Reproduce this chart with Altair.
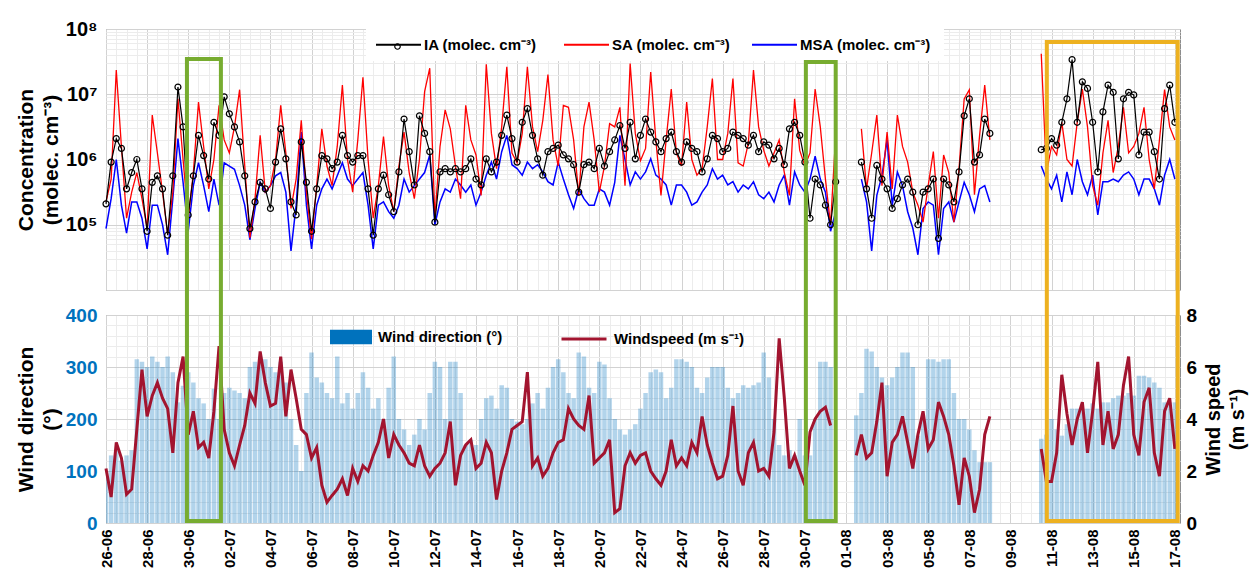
import altair as alt
import pandas as pd

FONT = "Liberation Sans"
START = "2019-06-26T00:00:00Z"   # first sample (26-06, 00:00)
END = "2019-08-17T06:00:00Z"     # right edge of the time axis
STEP_HOURS = 6                   # one value every 6 hours

# ---- concentrations, log10(molec. cm-3), one value per 6 h (None = no data) ----
ia_log10 = [
    5.32, 5.96, 6.32, 6.17, 5.55, 5.80, 6.00, 5.55,
    4.90, 5.65, 5.75, 5.55, 4.84, 5.75, 7.11, 6.50,
    5.15, 5.75, 6.37, 6.06, 5.70, 6.57, 6.37, 6.96,
    6.70, 6.50, 6.27, 5.75, 4.94, 5.35, 5.65, 5.55,
    5.25, 5.96, 6.47, 6.01, 5.35, 5.15, 6.27, 5.65,
    4.90, 5.55, 6.06, 6.01, 5.86, 5.96, 6.37, 6.06,
    5.96, 6.06, 6.06, 5.55, 4.84, 5.55, 5.76, 5.46,
    5.20, 5.81, 6.62, 6.12, 5.61, 6.67, 6.40, 6.12,
    5.04, 5.81, 5.86, 5.81, 5.86, 5.81, 5.86, 6.01,
    5.70, 5.61, 6.01, 5.81, 5.96, 6.37, 6.68, 6.32,
    5.96, 6.57, 6.78, 6.37, 6.01, 5.76, 6.12, 6.17,
    6.22, 6.07, 6.01, 5.92, 5.50, 5.92, 5.96, 5.86,
    6.17, 5.90, 6.12, 6.30, 6.52, 6.17, 6.57, 6.01,
    6.37, 6.62, 6.42, 6.27, 6.12, 6.32, 6.42, 6.12,
    5.96, 6.27, 6.17, 6.12, 5.81, 6.01, 6.37, 6.32,
    6.12, 6.17, 6.42, 6.37, 6.32, 6.22, 6.37, 6.12,
    6.27, 6.22, 6.01, 6.17, 5.92, 6.47, 6.57, 6.37,
    5.96, 5.10, 5.70, 5.61, 5.30, 5.00, 5.66, None,
    None, None, None, 5.96, 5.55, 5.10, 5.91, 5.70,
    5.55, 5.25, 5.40, 5.61, 5.70, 5.50, 5.00, 5.50,
    5.55, 5.70, 4.79, 5.70, 5.61, 5.35, 5.81, 6.67,
    6.93, 5.96, 6.07, 6.62, 6.40, None, None, None,
    None, None, None, None, None, None, 6.15, 6.17,
    6.32, 6.22, 6.57, 6.93, 7.53, 6.57, 7.19, 7.09,
    6.57, 5.81, 6.73, 7.14, 7.03, 6.01, 6.93, 7.03,
    6.99, 6.07, 6.42, 6.42, 6.12, 5.70, 6.78, 7.14,
    6.57,
]
sa_log10 = [
    5.35, 5.70, 7.37, 6.20, 5.10, 5.50, 5.80, 5.40,
    4.95, 6.68, 6.10, 5.50, 4.85, 5.50, 6.93, 6.00,
    5.10, 5.80, 6.88, 6.20, 5.55, 6.00, 6.83, 6.30,
    6.10, 6.50, 7.07, 5.90, 4.80, 5.40, 6.37, 5.50,
    5.60, 6.00, 6.83, 6.10, 5.25, 5.70, 6.60, 5.50,
    4.78, 5.60, 6.47, 5.90, 5.60, 6.20, 7.14, 6.00,
    5.50, 6.30, 7.26, 6.00, 5.10, 5.60, 6.35, 5.60,
    5.20, 5.90, 6.42, 5.80, 5.40, 6.00, 7.04, 7.40,
    5.10, 6.20, 6.76, 6.47, 5.90, 5.40, 6.83, 6.30,
    6.07, 5.45, 7.46, 6.40, 5.86, 6.50, 7.42, 6.10,
    5.95, 6.40, 7.42, 6.50, 6.12, 6.60, 7.30, 6.30,
    5.90, 6.83, 6.80, 6.30, 5.45, 6.50, 6.88, 6.30,
    5.50, 5.90, 6.55, 6.50, 6.80, 5.60, 7.47, 6.40,
    5.98, 6.17, 7.34, 6.30, 5.45, 6.30, 7.08, 6.10,
    5.90, 6.88, 6.00, 5.76, 5.86, 6.50, 7.24, 6.00,
    6.00, 6.40, 7.24, 5.95, 5.90, 6.25, 7.37, 6.50,
    6.14, 5.90, 6.10, 6.30, 5.80, 5.45, 6.93, 6.14,
    5.90, 6.10, 7.08, 6.50, 5.70, 5.00, 6.38, None,
    None, None, None, 6.47, 5.55, 6.10, 6.68, 5.60,
    6.42, 5.55, 6.68, 6.20, 5.96, 5.50, 5.30, 5.04,
    5.60, 6.12, 5.10, 6.07, 5.80, 5.04, 5.86, 6.93,
    7.07, 5.46, 6.37, 7.14, 6.30, None, None, None,
    None, None, None, None, None, None, 7.62, 5.80,
    6.20, 6.07, 6.57, 6.00, 5.90, 6.57, 7.08, 6.50,
    5.60, 5.30, 6.10, 6.60, 5.80, 6.20, 6.80, 6.10,
    6.20, 6.40, 6.80, 6.00, 5.55, 6.30, 7.07, 6.50,
    6.30,
]
msa_log10 = [
    4.94, 5.40, 6.00, 5.30, 4.87, 5.35, 5.35, 5.10,
    4.63, 5.30, 5.30, 5.00, 4.54, 5.40, 6.32, 5.65,
    4.90, 5.60, 5.95, 5.60, 5.20, 5.70, 5.30, 5.95,
    5.90, 5.85, 5.60, 5.30, 4.77, 5.25, 5.65, 5.50,
    5.60, 5.75, 5.80, 5.50, 4.60, 5.30, 6.42, 5.30,
    4.63, 5.30, 5.55, 5.70, 5.55, 5.75, 5.95, 5.70,
    5.60, 5.70, 5.80, 5.30, 4.63, 5.30, 5.35, 5.20,
    5.10, 5.30, 5.70, 5.50, 5.60, 5.70, 5.80, 6.07,
    5.00, 5.35, 5.55, 5.50, 5.70, 5.61, 5.50, 5.61,
    5.30, 5.50, 5.76, 5.96, 5.70, 6.12, 6.37, 5.92,
    5.86, 5.76, 5.96, 5.86, 5.92, 5.81, 5.66, 5.61,
    5.96, 5.70, 5.46, 5.25, 5.55, 5.40, 5.30, 5.30,
    5.55, 5.50, 5.30, 5.65, 6.37, 6.00, 5.61, 5.81,
    5.70, 5.81, 6.01, 5.76, 5.70, 5.61, 5.30, 5.61,
    5.61, 5.50, 5.30, 5.35, 5.50, 5.61, 5.86, 5.70,
    5.76, 5.61, 5.66, 5.50, 5.61, 5.55, 5.66, 5.46,
    5.40, 5.50, 5.35, 5.61, 5.76, 5.30, 5.81, 5.61,
    5.50, 5.70, 6.05, 5.70, 5.50, 4.90, 5.20, None,
    None, None, None, 5.70, 5.35, 4.60, 5.45, 5.75,
    6.30, 5.30, 5.81, 5.60, 5.20, 4.95, 4.54, 5.25,
    5.35, 5.30, 4.54, 5.25, 5.35, 5.04, 5.35, 5.65,
    5.46, 5.20, 5.55, 5.60, 5.35, None, None, None,
    None, None, None, None, None, None, 5.90, 5.70,
    5.55, 5.76, 5.35, 5.81, 5.46, 6.00, 5.66, 5.46,
    5.76, 5.15, 5.66, 5.66, 5.70, 5.66, 5.76, 5.81,
    5.70, 5.46, 5.70, 5.70, 5.55, 5.30, 5.76, 6.00,
    5.70,
]

# ---- wind, one value per 6 h ----
wind_dir_deg = [
    100, 130, 140, 120, 130, 140, 315, 310,
    300, 320, 310, 300, 320, 290, 232, 264,
    290, 270, 240, 230, 200, 258, 200, 250,
    260, 255, 250, 240, 300, 310, 320, 315,
    300, 290, 310, 270, 200, 150, 100, 250,
    328, 280, 270, 250, 240, 320, 230, 250,
    220, 250, 290, 260, 220, 240, 200, 260,
    320, 200, 180, 150, 170, 200, 180, 250,
    310, 300, 200, 310, 310, 250, 150, 160,
    150, 200, 240, 245, 220, 265, 260, 200,
    195, 190, 200, 230, 250, 220, 260, 300,
    315, 290, 250, 240, 328, 320, 260, 250,
    310, 305, 240, 200, 180, 170, 180, 190,
    220, 250, 290, 295, 290, 240, 260, 315,
    315, 310, 300, 260, 250, 280, 300, 300,
    300, 260, 240, 250, 265, 260, 265, 270,
    328, 280, 200, 150, 130, 140, 130, 200,
    130, 130, 200, 310, 310, 300, None, None,
    None, None, 207, 250, 335, 330, 300, 280,
    265, 280, 300, 328, 328, 300, 168, 200,
    315, 315, 310, 315, 315, 250, 200, 200,
    180, 140, 117, 117, 117, None, None, None,
    None, None, None, None, None, None, 162, 170,
    200, 180, 168, 190, 220, 220, 220, 220,
    230, 220, 232, 232, 240, 245, 245, 250,
    245, 283, 283, 280, 270, 260, 232, 232,
    232,
]
wind_speed_ms = [
    2.1, 1.0, 3.1, 2.5, 1.1, 1.3, 3.6, 5.9,
    4.1, 4.9, 5.4, 4.8, 4.4, 2.7, 5.4, 6.4,
    3.4, 4.3, 2.9, 3.1, 2.5, 4.3, 6.8, 3.6,
    2.7, 2.2, 3.0, 3.75, 5.0, 4.6, 6.6, 5.4,
    4.5, 4.6, 6.4, 4.1, 5.9, 4.8, 3.6, 3.4,
    2.5, 2.9, 1.45, 0.8, 1.06, 1.3, 1.7, 1.06,
    2.1, 1.6, 2.2, 2.0, 2.6, 3.1, 4.0, 2.5,
    3.4, 3.0, 2.7, 2.3, 2.2, 3.0, 2.2, 1.8,
    2.1, 2.3, 2.7, 3.9, 1.45, 2.6, 3.0, 3.2,
    2.1, 2.3, 3.1, 2.7, 0.9, 2.0, 2.7, 3.6,
    3.75, 3.9, 5.8, 2.2, 2.5, 1.8, 2.1, 2.7,
    3.1, 3.2, 4.4, 4.0, 3.75, 3.6, 4.9, 2.3,
    2.5, 2.7, 3.2, 0.4, 0.55, 2.2, 2.7, 2.3,
    2.6, 2.7, 2.0, 1.7, 1.45, 2.0, 3.2, 2.2,
    2.5, 2.2, 3.1, 2.7, 4.1, 3.0, 2.3, 1.7,
    1.8, 2.6, 4.5, 2.0, 1.45, 2.7, 3.1, 2.0,
    2.1, 1.8, 3.5, 7.1, 4.8, 2.1, 2.6, 2.0,
    1.45, 3.5, 4.0, 4.3, 4.45, 3.75, None, None,
    None, None, 2.6, 3.4, 2.5, 2.7, 3.9, 5.4,
    1.8, 3.1, 3.4, 4.1, 3.1, 2.1, 3.4, 4.3,
    2.85, 3.2, 4.65, 4.1, 3.4, 2.2, 0.7, 2.5,
    1.8, 0.4, 1.3, 3.4, 4.1, None, None, None,
    None, None, None, None, None, None, 2.85, 1.6,
    1.6, 2.7, 5.7, 4.2, 3.0, 4.0, 4.65, 2.7,
    4.3, 6.2, 3.0, 4.3, 2.85, 3.4, 5.3, 6.4,
    3.4, 2.6, 4.65, 5.2, 2.7, 1.8, 4.3, 4.8,
    2.85,
]

# ---- highlighted periods ----
box_start = ["2019-06-29T22:30:00Z", "2019-07-30T01:10:00Z", "2019-08-10T18:30:00Z"]
box_end = ["2019-07-01T14:10:00Z", "2019-07-31T12:00:00Z", "2019-08-17T03:20:00Z"]
box_color = ["#77AC30", "#77AC30", "#EDB120"]

N = len(sa_log10)
assert all(len(a) == N for a in (ia_log10, msa_log10, wind_dir_deg, wind_speed_ms)), \
    [len(a) for a in (ia_log10, sa_log10, msa_log10, wind_dir_deg, wind_speed_ms)]


def ms(s):
    return int(pd.Timestamp(s).value // 10**6)


DAY = 86400000
t0 = ms(START)
t_end = ms(END)
times = [t0 + i * STEP_HOURS * 3600000 for i in range(N)]


def frame(name, vals, key, log):
    out, seg = [], 0
    for t, v in zip(times, vals):
        if v is None:
            seg += 1
            continue
        out.append({"t": t, "series": name, key: (10 ** v) if log else v, "seg": seg})
    return pd.DataFrame(out)


ia_df = frame("IA", ia_log10, "conc", True)
sa_df = frame("SA", sa_log10, "conc", True)
msa_df = frame("MSA", msa_log10, "conc", True)
wd_df = frame("Wind direction", wind_dir_deg, "dir", False)
ws_df = frame("Windspeed", wind_speed_ms, "ws", False)

W = 1074
GRID_MAJ = "#d2d2d2"
GRID_MIN = "#ececec"

MAJOR_X = f"(datum.value - {t0}) % {2 * DAY} == 0"
xvals = [t0 + i * DAY // 2 for i in range(0, 52 * 2 + 1)]
xscale = alt.Scale(type="utc", domain=[t0, t_end], padding=0)
grid_x = {"condition": {"test": MAJOR_X, "value": GRID_MAJ}, "value": GRID_MIN}

x_top = alt.X("t:T", scale=xscale,
              axis=alt.Axis(title=None, values=xvals, labels=False, ticks=False, domain=False,
                            grid=True, gridColor=grid_x))
x_bot = alt.X("t:T", scale=xscale,
              axis=alt.Axis(title=None, values=xvals, ticks=False, domain=False, grid=True,
                            gridColor=grid_x, labelAngle=270, labelFontSize=15, labelPadding=6,
                            labelOverlap=False, labelFlush=False,
                            labelExpr=f"{MAJOR_X} ? utcFormat(datum.value, '%d-%m') : ''"))

# ---------------- top panel ----------------
ytop_vals = [m * 10 ** e for e in range(4, 8) for m in range(1, 10)] + [10 ** 8]
MAJOR_Y = "abs(log(datum.value)/LN10 - round(log(datum.value)/LN10)) < 0.001"
SUP = "['\u2070','\u00b9','\u00b2','\u00b3','\u2074','\u2075','\u2076','\u2077','\u2078','\u2079']"
y_top = alt.Y("conc:Q", scale=alt.Scale(type="log", domain=[1e4, 1e8]),
              axis=alt.Axis(title=["Concentration", "(molec. cm\u207b\u00b3)"], values=ytop_vals,
                            labelExpr=f"({MAJOR_Y}) && datum.value > 50000 ? '10' + {SUP}[round(log(datum.value)/LN10)] : ''",
                            labelFontSize=20, labelPadding=9, labelOverlap=False,
                            titleFontSize=21, titleLineHeight=25, titlePadding=4,
                            ticks=False, domain=False, grid=True,
                            gridColor={"condition": {"test": MAJOR_Y, "value": GRID_MAJ}, "value": GRID_MIN}))

color_enc = alt.Color("series:N",
                      scale=alt.Scale(domain=["IA", "SA", "MSA"], range=["#000000", "#ff0000", "#0000ff"]),
                      legend=alt.Legend(orient="none", legendX=260, legendY=-1, direction="horizontal",
                                        columns=3, title=None, symbolType="M-3,0H3", symbolSize=225,
                                        symbolStrokeWidth=2, symbolOffset=16, labelOffset=17,
                                        labelFontSize=15, labelFontWeight="bold", labelColor="black",
                                        labelFont=FONT, labelLimit=400, labelBaseline="middle",
                                        labelExpr="datum.label + '  (molec. cm\u207b\u00b3)'",
                                        fillColor="white", padding=8, columnPadding=0, gridAlign="all"))

msa_line = alt.Chart(msa_df).mark_line(strokeWidth=1.5).encode(
    x=x_top, y=y_top, color=color_enc, detail="seg:N")
sa_line = alt.Chart(sa_df).mark_line(strokeWidth=1.3).encode(
    x=x_top, y=y_top, color=color_enc, detail="seg:N")
ia_line = alt.Chart(ia_df).mark_line(strokeWidth=1.2).encode(
    x=x_top, y=y_top, color=color_enc, detail="seg:N")
ia_pts = alt.Chart(ia_df).mark_point(filled=False, size=36, strokeWidth=1.2, color="black", opacity=1).encode(
    x=x_top, y=y_top,
    shape=alt.Shape("series:N", scale=alt.Scale(domain=["IA"], range=["circle"]),
                    legend=alt.Legend(orient="none", legendX=288, legendY=14, title=None,
                                      labelExpr="''", labelFontSize=1, symbolSize=30,
                                      symbolStrokeColor="black", symbolFillColor="white",
                                      symbolStrokeWidth=1.2, padding=0)))

top = alt.layer(msa_line, sa_line, ia_line, ia_pts).properties(width=W, height=261)

# ---------------- bottom panel ----------------
y_dir = alt.Y("dir:Q", scale=alt.Scale(domain=[0, 400]),
              axis=alt.Axis(orient="left", title=["Wind direction", "(\u00b0)"], values=list(range(0, 401, 20)),
                            labelExpr="datum.value % 100 == 0 ? datum.label : ''",
                            labelColor="#0072BD", labelFontSize=19, labelPadding=9, labelOverlap=False,
                            titleFontSize=21, titleLineHeight=25, titlePadding=4,
                            ticks=False, domain=False, grid=True,
                            gridColor={"condition": {"test": "datum.value % 100 == 0", "value": GRID_MAJ},
                                       "value": GRID_MIN}))
y_ws = alt.Y("ws:Q", scale=alt.Scale(domain=[0, 8]),
             axis=alt.Axis(orient="right", title=["Wind speed", "(m s\u207b\u00b9)"], values=[0, 2, 4, 6, 8],
                           labelFontSize=19, labelPadding=6, titleFontSize=20, titleLineHeight=24,
                           titlePadding=3, titleAngle=270, ticks=False, domain=False, grid=False))

bars = alt.Chart(wd_df).mark_bar(width=4.5, opacity=0.3, clip=True).encode(
    x=x_bot, y=y_dir,
    fill=alt.Fill("series:N", scale=alt.Scale(range=["#0072BD"]),
                  legend=alt.Legend(orient="none", legendX=224, legendY=1, title=None,
                                    symbolType="M-1,-0.34H1V0.34H-1Z", symbolSize=1764, symbolOpacity=1,
                                    symbolStrokeWidth=0, labelExpr="datum.label + '  (\u00b0)'",
                                    labelFontSize=15, labelFontWeight="bold", labelColor="black",
                                    labelFont=FONT, labelOffset=6, padding=0)))
ws_line = alt.Chart(ws_df).mark_line(strokeWidth=3).encode(
    x=x_bot, y=y_ws, detail="seg:N",
    stroke=alt.Stroke("series:N", scale=alt.Scale(range=["#A2142F"]),
                      legend=alt.Legend(orient="none", legendX=454, legendY=0, title=None,
                                        symbolType="M-1,0H1", symbolSize=2025, symbolStrokeWidth=3,
                                        labelExpr="datum.label + '  (m s\u207b\u00b9)'",
                                        labelFontSize=15, labelFontWeight="bold", labelColor="black",
                                        labelFont=FONT, labelOffset=6, padding=0)))

box_tops = [-256, -253, -273]
boxes = []
for s, e, c, top_px in zip(box_start, box_end, box_color, box_tops):
    bdf = pd.DataFrame({"t": [ms(s)], "t2": [ms(e)]})
    boxes.append(alt.Chart(bdf).mark_rect(fillOpacity=0, stroke=c, strokeWidth=4).encode(
        x=x_bot, x2=alt.X2("t2"), y=alt.value(top_px), y2=alt.value(206)))

bottom = alt.layer(bars, ws_line, *boxes).resolve_scale(
    y="independent", fill="independent", stroke="independent").properties(width=W, height=208)

chart = alt.vconcat(top, bottom, spacing=25, bounds="flush",
                    padding={"left": 6, "top": 10, "right": 0, "bottom": 2}).resolve_scale(
    x="shared", y="independent", color="independent", shape="independent",
    fill="independent", stroke="independent"
).configure_view(stroke="#8c8c8c", strokeWidth=1).configure_axis(
    labelFont=FONT, titleFont=FONT, labelFontWeight="bold", titleFontWeight="bold",
    labelColor="black", titleColor="black"
).configure_legend(labelFont=FONT)

chart.save("out.html", embed_options={"renderer": "svg", "actions": False})
